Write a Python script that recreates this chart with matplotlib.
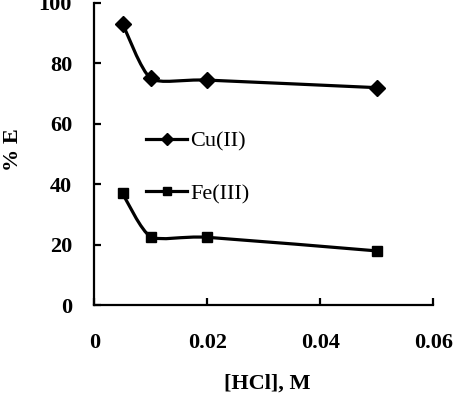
import numpy as np
import matplotlib
matplotlib.use("Agg")
import matplotlib.pyplot as plt
from matplotlib.path import Path
from matplotlib.patches import PathPatch
from matplotlib.lines import Line2D

hcl = [0.005, 0.01, 0.02, 0.05]
cu = [93.1, 75.0, 74.4, 71.9]
fe = [36.9, 22.6, 22.4, 17.9]
series_names = ["Cu(II)", "Fe(III)"]
xticks = [0, 0.02, 0.04, 0.06]
xticklabels = ["0", "0.02", "0.04", "0.06"]
yticks = [0, 20, 40, 60, 80, 100]

plt.rcParams['font.family'] = ['Liberation Serif', 'DejaVu Serif']

fig = plt.figure(figsize=(4.65, 4.04), dpi=100)
ax = fig.add_axes([0.2028, 0.245, 0.729, 0.7483])
ax.set_xlim(0, 0.06)
ax.set_ylim(0, 100)


def smooth_path(ax, xs, ys, k=9.0):
    pts = ax.transData.transform(np.column_stack([xs, ys]))
    n = len(pts)
    verts = [pts[0]]
    codes = [Path.MOVETO]
    for i in range(n - 1):
        p0 = pts[i - 1] if i > 0 else pts[i]
        p1 = pts[i]
        p2 = pts[i + 1]
        p3 = pts[i + 2] if i + 2 < n else pts[i + 1]
        c1 = p1 + (p2 - p0) / k
        c2 = p2 - (p3 - p1) / k
        verts += [c1, c2, p2]
        codes += [Path.CURVE4] * 3
    verts = ax.transData.inverted().transform(np.array(verts))
    return Path(verts, codes)


for ys, mk, ms in [(cu, 'D', 8), (fe, 's', 7.5)]:
    patch = PathPatch(smooth_path(ax, hcl, ys), facecolor='none',
                      edgecolor='black', lw=2.3, zorder=2)
    ax.add_patch(patch)
    ax.plot(hcl, ys, linestyle='none', marker=mk, markersize=ms,
            color='black', zorder=3, clip_on=False)

for s in ['top', 'right']:
    ax.spines[s].set_visible(False)
for s in ['left', 'bottom']:
    ax.spines[s].set_linewidth(1.6)

ax.set_xticks(xticks)
ax.set_xticklabels(xticklabels)
ax.set_yticks(yticks)
ax.tick_params(axis='both', direction='in', length=5, width=1.6,
               labelsize=16)
ax.tick_params(axis='x', pad=20)
ax.tick_params(axis='y', pad=16)
for lab in ax.get_xticklabels() + ax.get_yticklabels():
    lab.set_fontweight('bold')

ax.set_xlabel("[HCl], M", fontsize=16, fontweight='bold')
ax.xaxis.set_label_coords(0.509, -0.261)
ax.xaxis.label.set_va('center')
ax.set_ylabel("% E", fontsize=16, fontweight='bold')
ax.yaxis.set_label_coords(-0.24, 0.513)
ax.yaxis.label.set_va('center')

handles = [Line2D([], [], color='black', lw=2.3, marker='D', markersize=6),
           Line2D([], [], color='black', lw=2.3, marker='s', markersize=6)]
leg = fig.legend(handles, series_names, loc='center left',
                 bbox_to_anchor=(0.314, 0.5854), frameon=False,
                 fontsize=16, handlelength=1.85, handletextpad=0.15,
                 labelspacing=1.45, borderpad=0, borderaxespad=0)

fig.savefig("out.png", dpi=100)
